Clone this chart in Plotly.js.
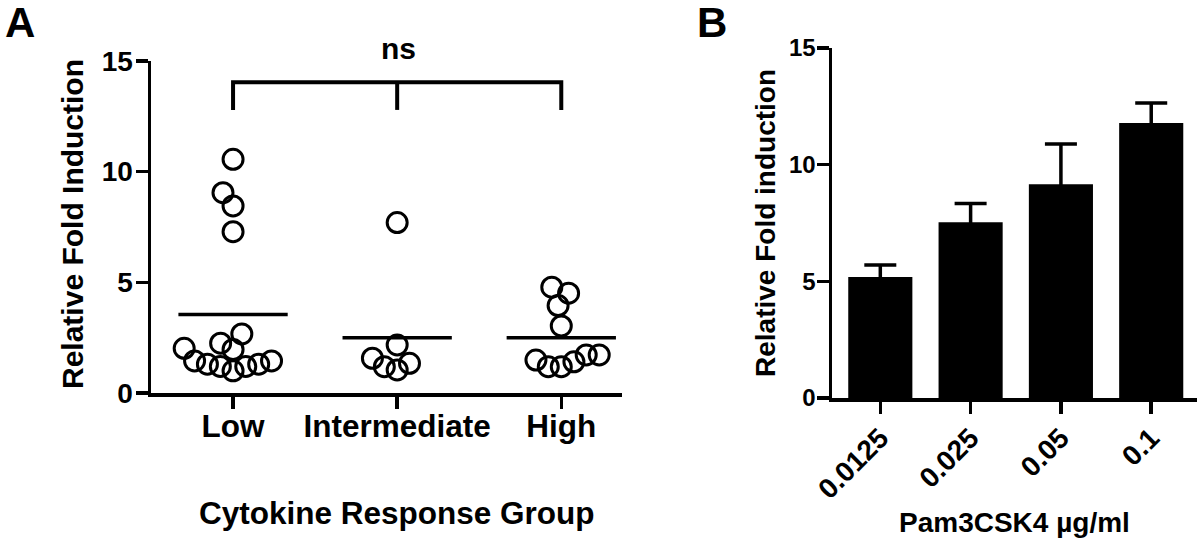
<!DOCTYPE html>
<html>
<head>
<meta charset="utf-8">
<script src="https://cdn.plot.ly/plotly-3.0.1.min.js"></script>
<style>html,body{margin:0;padding:0;background:#fff;}#chart{width:1200px;height:543px;}</style>
</head>
<body>
<div id="chart"></div>
<script>
// ---- Panel A data: relative fold induction per cytokine response group ----
const groups = ['Low', 'Intermediate', 'High'];
const lowValues = [10.56, 9.05, 8.45, 7.29, 2.67, 2.25, 2.02, 1.97, 1.45, 1.3, 1.2, 1.0, 1.2, 1.3, 1.45];
const intermediateValues = [7.70, 2.17, 1.34, 1.04, 1.19, 1.57];
const highValues = [4.78, 4.51, 3.95, 3.03, 1.41, 1.72, 1.19, 1.19, 1.72, 1.49];
const yTicksA = [0, 5, 10, 15];
const bracketLabel = 'ns';

// ---- Panel B data: Pam3CSK4 dose response ----
const doses = ['0.0125', '0.025', '0.05', '0.1'];
const doseMeans = [5.19, 7.53, 9.16, 11.79];
const doseSEM = [0.51, 0.81, 1.73, 0.85];
const yTicksB = [0, 5, 10, 15];

// ---- geometry (pixels) ----
const W = 1200, H = 543;
const A = {x0: 151, x1: 622, y0: 393, y1: 61, xr: [-0.5, 2.37]};
const B = {x0: 832, x1: 1197, y0: 398, y1: 48, xr: [-0.535, 3.507]};
const pxPerUnitYA = (A.y0 - A.y1) / 15;
const pxPerUnitXA = (A.x1 - A.x0) / (A.xr[1] - A.xr[0]);

// simple (overlapping) beeswarm: lowest points first, each as close to the
// centre as possible; dh = horizontal spacing, dv = vertical reach (px)
function beeswarm(values, dh, dv) {
  const placed = [];
  const out = new Array(values.length);
  const order = values.map((v, i) => i).sort((a, b) => values[a] - values[b]);
  for (const i of order) {
    const y = values[i] * pxPerUnitYA;
    const blocks = [];
    for (const p of placed) {
      const dy = Math.abs(p.y - y);
      if (dy < dv) {
        const w = dh * Math.sqrt(1 - (dy / dv) * (dy / dv));
        blocks.push([p.x - w, p.x + w]);
      }
    }
    const cands = [0];
    blocks.forEach(b => cands.push(b[0], b[1]));
    cands.sort((a, b) => Math.abs(a) - Math.abs(b) || a - b);
    let x = 0;
    for (const c of cands) {
      if (blocks.every(b => c <= b[0] + 1e-6 || c >= b[1] - 1e-6)) { x = c; break; }
    }
    placed.push({x, y});
    out[i] = x / pxPerUnitXA;
  }
  return out;
}

const groupValues = [lowValues, intermediateValues, highValues];
const traces = [];
const fontFam = 'Liberation Sans, Arial, Helvetica, sans-serif';

groupValues.forEach((vals, gi) => {
  const offs = beeswarm(vals, 13, 21);
  traces.push({
    type: 'scatter', mode: 'markers', xaxis: 'x', yaxis: 'y',
    x: offs.map(o => gi + o), y: vals, name: groups[gi],
    marker: {symbol: 'circle-open', size: 20, color: '#000', line: {width: 3, color: '#000'}},
    hoverinfo: 'skip', showlegend: false
  });
});

// mean lines
const mx = [], my = [];
groupValues.forEach((vals, gi) => {
  const m = vals.reduce((s, v) => s + v, 0) / vals.length;
  mx.push(gi - 0.333, gi + 0.333, null);
  my.push(m, m, null);
});
traces.push({
  type: 'scatter', mode: 'lines', xaxis: 'x', yaxis: 'y', x: mx, y: my,
  line: {color: '#000', width: 3.5}, hoverinfo: 'skip', showlegend: false
});

// panel B bars (lower half of the error bar is hidden inside the black bar)
traces.push({
  type: 'bar', xaxis: 'x2', yaxis: 'y2', x: doses, y: doseMeans, width: 0.71,
  marker: {color: '#000', line: {width: 0}},
  error_y: {type: 'data', symmetric: true, array: doseSEM,
            color: '#000', thickness: 3.5, width: 16},
  hoverinfo: 'skip', showlegend: false
});

const axisCommon = {
  showline: true, linecolor: '#000', linewidth: 3.5, ticks: 'outside', ticklen: 12,
  tickwidth: 3.5, tickcolor: '#000', showgrid: false, zeroline: false, fixedrange: true
};

const bracketTop = 14.04, bracketFoot = 12.79;

const layout = {
  width: W, height: H, margin: {l: 0, r: 0, t: 0, b: 0},
  paper_bgcolor: '#fff', plot_bgcolor: 'rgba(0,0,0,0)',
  showlegend: false,
  font: {family: fontFam, color: '#000', weight: 700},
  xaxis: Object.assign({}, axisCommon, {
    domain: [A.x0 / W, A.x1 / W], range: A.xr, anchor: 'y',
    tickvals: groups.map((g, i) => i), ticktext: groups, ticklabelstandoff: -9,
    tickfont: {size: 31.5, family: fontFam, weight: 700, color: '#000'}
  }),
  yaxis: Object.assign({}, axisCommon, {
    domain: [1 - A.y0 / H, 1 - A.y1 / H], range: [0, 15], anchor: 'x',
    tickvals: yTicksA, ticktext: yTicksA.map(String), ticklabelstandoff: -3,
    tickfont: {size: 28, family: fontFam, weight: 700, color: '#000'}
  }),
  xaxis2: Object.assign({}, axisCommon, {
    type: 'category', domain: [B.x0 / W, B.x1 / W], range: B.xr, anchor: 'y2',
    tickangle: -45, ticklabelstandoff: -3,
    tickfont: {size: 28, family: fontFam, weight: 700, color: '#000'}
  }),
  yaxis2: Object.assign({}, axisCommon, {
    domain: [1 - B.y0 / H, 1 - B.y1 / H], range: [0, 15], anchor: 'x2',
    tickvals: yTicksB, ticktext: yTicksB.map(String), ticklabelstandoff: -4,
    tickfont: {size: 24, family: fontFam, weight: 700, color: '#000'}
  }),
  shapes: [
    {type: 'path', xref: 'x', yref: 'y',
     path: `M 0,${bracketFoot} L 0,${bracketTop} L 2,${bracketTop} L 2,${bracketFoot}`,
     line: {color: '#000', width: 4}},
    {type: 'line', xref: 'x', yref: 'y', x0: 1, x1: 1, y0: bracketTop, y1: bracketFoot,
     line: {color: '#000', width: 4}}
  ],
  annotations: [
    {text: 'A', xref: 'paper', yref: 'paper', x: 20 / W, y: 1 - 22 / H, showarrow: false,
     xanchor: 'center', yanchor: 'middle', font: {size: 42, family: fontFam, weight: 700}},
    {text: 'B', xref: 'paper', yref: 'paper', x: 712 / W, y: 1 - 22 / H, showarrow: false,
     xanchor: 'center', yanchor: 'middle', font: {size: 42, family: fontFam, weight: 700}},
    {text: bracketLabel, xref: 'paper', yref: 'paper', x: 398 / W, y: 1 - 49 / H, showarrow: false,
     xanchor: 'center', yanchor: 'middle', font: {size: 30, family: fontFam, weight: 700}},
    {text: 'Relative Fold Induction', xref: 'paper', yref: 'paper', x: 72 / W, y: 1 - 224 / H,
     textangle: -90, showarrow: false, xanchor: 'center', yanchor: 'middle',
     font: {size: 30, family: fontFam, weight: 700}},
    {text: 'Cytokine Response Group', xref: 'paper', yref: 'paper', x: 397 / W, y: 1 - 513 / H,
     showarrow: false, xanchor: 'center', yanchor: 'middle',
     font: {size: 31.5, family: fontFam, weight: 700}},
    {text: 'Relative Fold induction', xref: 'paper', yref: 'paper', x: 766 / W, y: 1 - 223 / H,
     textangle: -90, showarrow: false, xanchor: 'center', yanchor: 'middle',
     font: {size: 28, family: fontFam, weight: 700}},
    {text: 'Pam3CSK4 µg/ml', xref: 'paper', yref: 'paper', x: 1014 / W, y: 1 - 522 / H,
     showarrow: false, xanchor: 'center', yanchor: 'middle',
     font: {size: 28, family: fontFam, weight: 700}}
  ]
};

Plotly.newPlot('chart', traces, layout, {staticPlot: true, displayModeBar: false});
</script>
</body>
</html>
